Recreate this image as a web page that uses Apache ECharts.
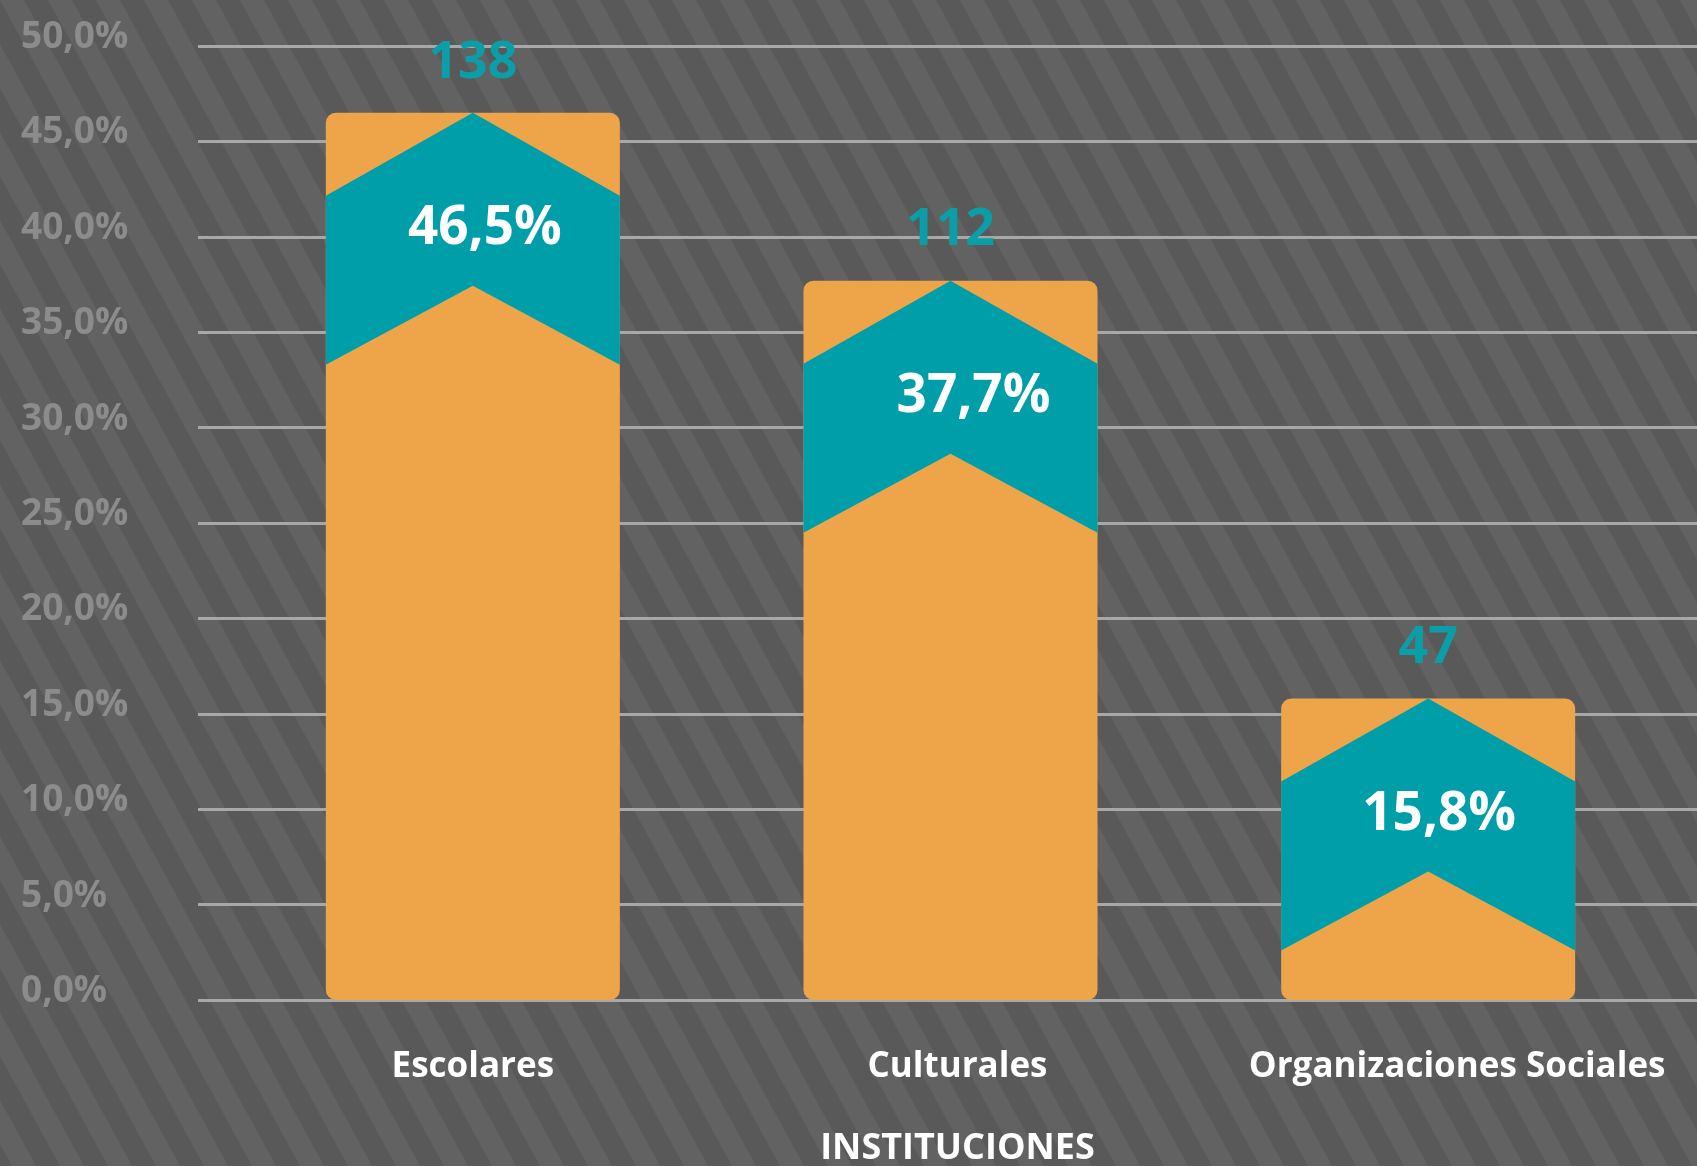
<!DOCTYPE html>
<html>
<head>
<meta charset="utf-8">
<script src="https://cdn.jsdelivr.net/npm/echarts@6/dist/echarts.min.js"></script>
<style>
  html, body { margin: 0; padding: 0; background: #5e5e5e; }
  #chart { width: 1697px; height: 1166px; }
</style>
</head>
<body>
<div id="chart"></div>
<script>
const categories = ['Escolares', 'Culturales', 'Organizaciones Sociales'];
const percentages = [46.5, 37.7, 15.8];
const counts = [138, 112, 47];
const yTicks = [0, 5, 10, 15, 20, 25, 30, 35, 40, 45, 50];

const ORANGE = '#EEA54A';
const TEAL = '#009EA8';
const FONT = '"Open Sans", sans-serif';
// small horizontal nudges of the % labels, as in the original
const pctShift = [12, 23, 11];

// striped background tile
function stripeTile() {
  const w = 48, h = 88;
  const c = document.createElement('canvas');
  c.width = w; c.height = h;
  const ctx = c.getContext('2d');
  ctx.fillStyle = '#595959';
  ctx.fillRect(0, 0, w, h);
  ctx.fillStyle = '#626262';
  for (let k = -3; k <= 3; k++) {
    const x0 = k * w;
    ctx.beginPath();
    ctx.moveTo(x0, 0);
    ctx.lineTo(x0 + w / 2, 0);
    ctx.lineTo(x0 + w / 2 + w, h);
    ctx.lineTo(x0 + w, h);
    ctx.closePath();
    ctx.fill();
  }
  return c;
}

const fmt = v => v.toFixed(1).replace('.', ',') + '%';

const chart = echarts.init(document.getElementById('chart'));

const BAR_W = 294;

const option = {
  backgroundColor: { image: stripeTile(), repeat: 'repeat' },
  animation: false,
  grid: [
    { left: 198, right: 0, top: 46, bottom: 166, outerBoundsMode: 'none', containLabel: false },
    { left: 234, right: 30, top: 46, bottom: 166, outerBoundsMode: 'none', containLabel: false }
  ],
  xAxis: [
    { gridIndex: 0, type: 'category', data: categories, show: false },
    {
      gridIndex: 1,
      type: 'category',
      data: [
        { value: categories[0] },
        { value: categories[1], textStyle: { padding: [0, 0, 0, 14] } },
        { value: categories[2], textStyle: { padding: [0, 0, 0, 58] } }
      ],
      axisLine: { show: false },
      axisTick: { show: false },
      axisLabel: {
        interval: 0,
        color: '#ffffff',
        fontFamily: FONT,
        fontWeight: 'bold',
        fontSize: 35,
        margin: 50
      },
      name: 'INSTITUCIONES',
      nameLocation: 'middle',
      nameGap: 131,
      nameTextStyle: {
        color: '#ffffff',
        fontFamily: FONT,
        fontWeight: 'bold',
        fontSize: 36,
        padding: [0, 0, 0, 14]
      }
    }
  ],
  yAxis: [
    {
      gridIndex: 0,
      type: 'value',
      min: yTicks[0],
      max: yTicks[yTicks.length - 1],
      interval: 5,
      axisLine: { show: false },
      axisTick: { show: false },
      splitLine: { lineStyle: { color: '#a8a8a8', width: 3 } },
      axisLabel: {
        formatter: v => fmt(v),
        color: '#8c8c8c',
        fontFamily: FONT,
        fontWeight: 'bold',
        fontSize: 37,
        align: 'left',
        margin: 177,
        verticalAlign: 'bottom',
        lineHeight: 17
      }
    },
    {
      gridIndex: 1,
      type: 'value',
      min: yTicks[0],
      max: yTicks[yTicks.length - 1],
      show: false
    }
  ],
  series: [
    {
      type: 'bar',
      xAxisIndex: 1,
      yAxisIndex: 1,
      barWidth: BAR_W,
      data: percentages,
      itemStyle: { color: ORANGE, borderRadius: 10 },
      z: 2
    },
    {
      type: 'custom',
      xAxisIndex: 1,
      yAxisIndex: 1,
      z: 3,
      data: percentages.map((p, i) => [i, p, counts[i]]),
      renderItem: function (params, api) {
        const i = api.value(0);
        const top = api.coord([i, api.value(1)]);
        const cx = top[0], ty = top[1];
        const half = BAR_W / 2;
        const l = cx - half, r = cx + half;
        return {
          type: 'group',
          children: [
            {
              type: 'polygon',
              shape: {
                points: [
                  [l, ty + 83], [cx, ty], [r, ty + 83],
                  [r, ty + 252], [cx, ty + 173], [l, ty + 252]
                ]
              },
              style: { fill: TEAL }
            },
            {
              type: 'text',
              style: {
                x: cx + pctShift[i],
                y: ty + 116,
                text: fmt(api.value(1)),
                fill: '#ffffff',
                font: 'bold 53px ' + FONT,
                align: 'center',
                verticalAlign: 'middle'
              }
            },
            {
              type: 'text',
              style: {
                x: cx,
                y: ty - 50,
                text: String(api.value(2)),
                fill: '#0A9FA8',
                font: 'bold 52px ' + FONT,
                align: 'center',
                verticalAlign: 'middle'
              }
            }
          ]
        };
      }
    }
  ]
};

chart.setOption(option);
</script>
</body>
</html>
